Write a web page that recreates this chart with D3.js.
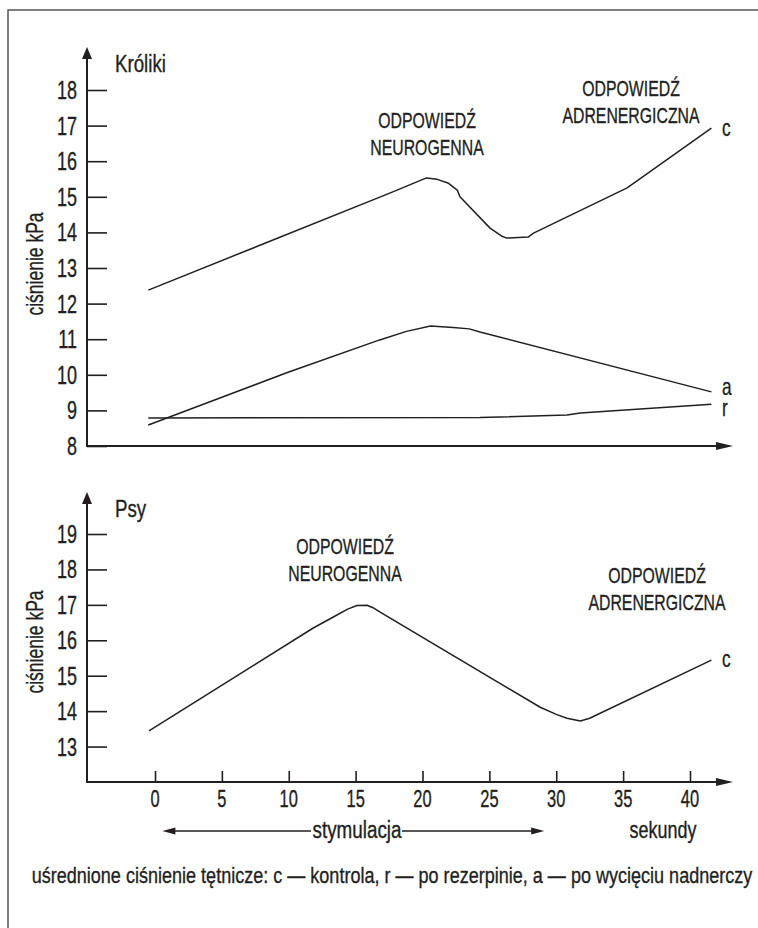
<!DOCTYPE html>
<html>
<head>
<meta charset="utf-8">
<script src="https://cdn.jsdelivr.net/npm/d3@7"></script>
<style>
  body { margin: 0; background: #fff; }
  svg text { font-family: "Liberation Sans", Arial, sans-serif; fill: #231f20; stroke: #231f20; stroke-width: 0.35px; }
</style>
</head>
<body>
<svg id="chart" width="758" height="928"></svg>
<script>
// Data
const xTicks = [0, 5, 10, 15, 20, 25, 30, 35, 40];
const rabbitTicks = [8, 9, 10, 11, 12, 13, 14, 15, 16, 17, 18];
const dogTicks = [13, 14, 15, 16, 17, 18, 19];

// Króliki - c (kontrola)
const rabbitCSec = [-0.5, 17.6, 20.3, 21.1, 21.9, 22.6, 22.8, 25.05, 25.9, 26.3, 27.9, 28.3, 35.3, 41.6];
const rabbitCVal = [12.38, 15.11, 15.53, 15.49, 15.39, 15.19, 15.0, 14.12, 13.9, 13.84, 13.87, 13.98, 15.25, 16.93];
// Króliki - a (po wycięciu nadnerczy)
const rabbitASec = [-0.5, 5, 10, 16.8, 18.8, 20.6, 22.3, 23.5, 24.3, 41.6];
const rabbitAVal = [8.59, 9.37, 10.08, 10.98, 11.22, 11.37, 11.33, 11.29, 11.2, 9.52];
// Króliki - r (po rezerpinie)
const rabbitRSec = [-0.5, 24.3, 30.8, 31.8, 41.6];
const rabbitRVal = [8.79, 8.80, 8.87, 8.93, 9.17];
// Psy - c
const dogCSec = [-0.45, 11.8, 13.3, 14.4, 15.1, 15.85, 16.3, 16.8, 28.8, 30.0, 30.8, 31.8, 32.5, 41.6];
const dogCVal = [13.44, 16.34, 16.65, 16.88, 16.98, 16.99, 16.92, 16.8, 14.11, 13.91, 13.8, 13.72, 13.8, 15.44];

const ink = "#231f20";
const svg = d3.select("#chart");

// condensed text: horizontal squeeze around the anchor point
function addText(parent, x, y, str, size, sx, anchor, rotate) {
    return parent.append("text")
        .attr("transform", `translate(${x},${y})${rotate ? " rotate(" + rotate + ")" : ""} scale(${sx},1)`)
        .attr("text-anchor", anchor || "start")
        .style("font-size", size + "px")
        .text(str);
}

// frame (top + left edge only)
svg.append("path")
    .attr("d", "M8,928 V10 H758")
    .attr("fill", "none")
    .attr("stroke", "#555")
    .attr("stroke-width", 1.5);

// shared x scale
const x = d3.scaleLinear().domain([0, 40]).range([155, 690]);
const xLeft = 87, xRight = 733;

function drawPanel(opts) {
    const y = d3.scaleLinear().domain(opts.domain).range(opts.range);
    const base = opts.range[0];
    const g = svg.append("g");

    // y axis with arrow
    g.append("line").attr("x1", xLeft).attr("x2", xLeft)
        .attr("y1", base + 1).attr("y2", opts.top + 10)
        .attr("stroke", ink).attr("stroke-width", 2);
    g.append("path")
        .attr("d", `M${xLeft},${opts.top} L${xLeft - 5},${opts.top + 12} L${xLeft + 5},${opts.top + 12} Z`)
        .attr("fill", ink);

    // x axis with arrow
    g.append("line").attr("x1", xLeft - 1).attr("x2", xRight - 14)
        .attr("y1", base).attr("y2", base)
        .attr("stroke", ink).attr("stroke-width", 2);
    g.append("path")
        .attr("d", `M${xRight},${base} L${xRight - 17},${base - 4} L${xRight - 17},${base + 4} Z`)
        .attr("fill", ink);

    // y ticks (inward) and labels
    const yAxis = d3.axisRight(y).tickValues(opts.ticks).tickSize(20).tickFormat("");
    g.append("g").attr("transform", `translate(${xLeft},0)`).call(yAxis)
        .call(s => s.select(".domain").remove())
        .call(s => s.selectAll("line").attr("stroke", ink).attr("stroke-width", 1.6));
    opts.ticks.forEach(t => {
        addText(g, 77, y(t) + 9, t, 25, 0.72, "end");
    });

    // title
    addText(g, 115, opts.top + 25, opts.title, 24, 0.78);

    // y label
    addText(g, 43, opts.labelY, "ciśnienie kPa", 24, 0.73, "middle", -90);

    // curves
    const line = d3.line().x(d => x(d[0])).y(d => y(d[1]));
    opts.series.forEach(s => {
        g.append("path")
            .datum(d3.zip(s.sec, s.val))
            .attr("d", line)
            .attr("fill", "none")
            .attr("stroke", ink)
            .attr("stroke-width", 1.5)
            .attr("stroke-linejoin", "round");
        addText(g, 722, s.labelY, s.name, 23, 0.75);
    });

    // annotations
    opts.notes.forEach(n => {
        n.lines.forEach((t, i) => {
            addText(g, n.x, n.y + i * 27, t, 22, 0.72, "middle");
        });
    });
    return { g, y };
}

// Króliki
drawPanel({
    domain: [8, 18], range: [446, 90], top: 47, ticks: rabbitTicks,
    title: "Króliki", labelY: 264,
    series: [
        { name: "c", sec: rabbitCSec, val: rabbitCVal, labelY: 136 },
        { name: "a", sec: rabbitASec, val: rabbitAVal, labelY: 395 },
        { name: "r", sec: rabbitRSec, val: rabbitRVal, labelY: 416 }
    ],
    notes: [
        { x: 427, y: 128, lines: ["ODPOWIEDŹ", "NEUROGENNA"] },
        { x: 631, y: 96, lines: ["ODPOWIEDŹ", "ADRENERGICZNA"] }
    ]
});

// Psy
const dog = drawPanel({
    domain: [12, 19], range: [782, 534], top: 492, ticks: dogTicks,
    title: "Psy", labelY: 642,
    series: [
        { name: "c", sec: dogCSec, val: dogCVal, labelY: 667 }
    ],
    notes: [
        { x: 345, y: 554, lines: ["ODPOWIEDŹ", "NEUROGENNA"] },
        { x: 657, y: 583, lines: ["ODPOWIEDŹ", "ADRENERGICZNA"] }
    ]
});

// x ticks on the lower panel (pointing up)
const xAxis = d3.axisTop(x).tickValues(xTicks).tickSize(11).tickFormat("");
dog.g.append("g").attr("transform", "translate(0,782)").call(xAxis)
    .call(s => s.select(".domain").remove())
    .call(s => s.selectAll("line").attr("stroke", ink).attr("stroke-width", 1.6));
xTicks.forEach(t => addText(dog.g, x(t), 807, t, 23.5, 0.7, "middle"));

// stymulacja arrow (0 .. 29 s)
const stimY = 831;
const sx0 = x(0.55), sx1 = x(29.1);
dog.g.append("line").attr("x1", sx0 + 10).attr("x2", 311).attr("y1", stimY).attr("y2", stimY)
    .attr("stroke", ink).attr("stroke-width", 1.5);
dog.g.append("line").attr("x1", 402).attr("x2", sx1 - 10).attr("y1", stimY).attr("y2", stimY)
    .attr("stroke", ink).attr("stroke-width", 1.5);
dog.g.append("path").attr("d", `M${sx0},${stimY} L${sx0 + 13},${stimY - 3.5} L${sx0 + 13},${stimY + 3.5} Z`).attr("fill", ink);
dog.g.append("path").attr("d", `M${sx1},${stimY} L${sx1 - 13},${stimY - 3.5} L${sx1 - 13},${stimY + 3.5} Z`).attr("fill", ink);
addText(dog.g, 357, 838, "stymulacja", 23, 0.82, "middle");
addText(dog.g, 663, 838, "sekundy", 23, 0.78, "middle");

// footnote
addText(svg, 392, 883, "uśrednione ciśnienie tętnicze: c — kontrola, r — po rezerpinie, a — po wycięciu nadnerczy", 22, 0.82, "middle");
</script>
</body>
</html>
